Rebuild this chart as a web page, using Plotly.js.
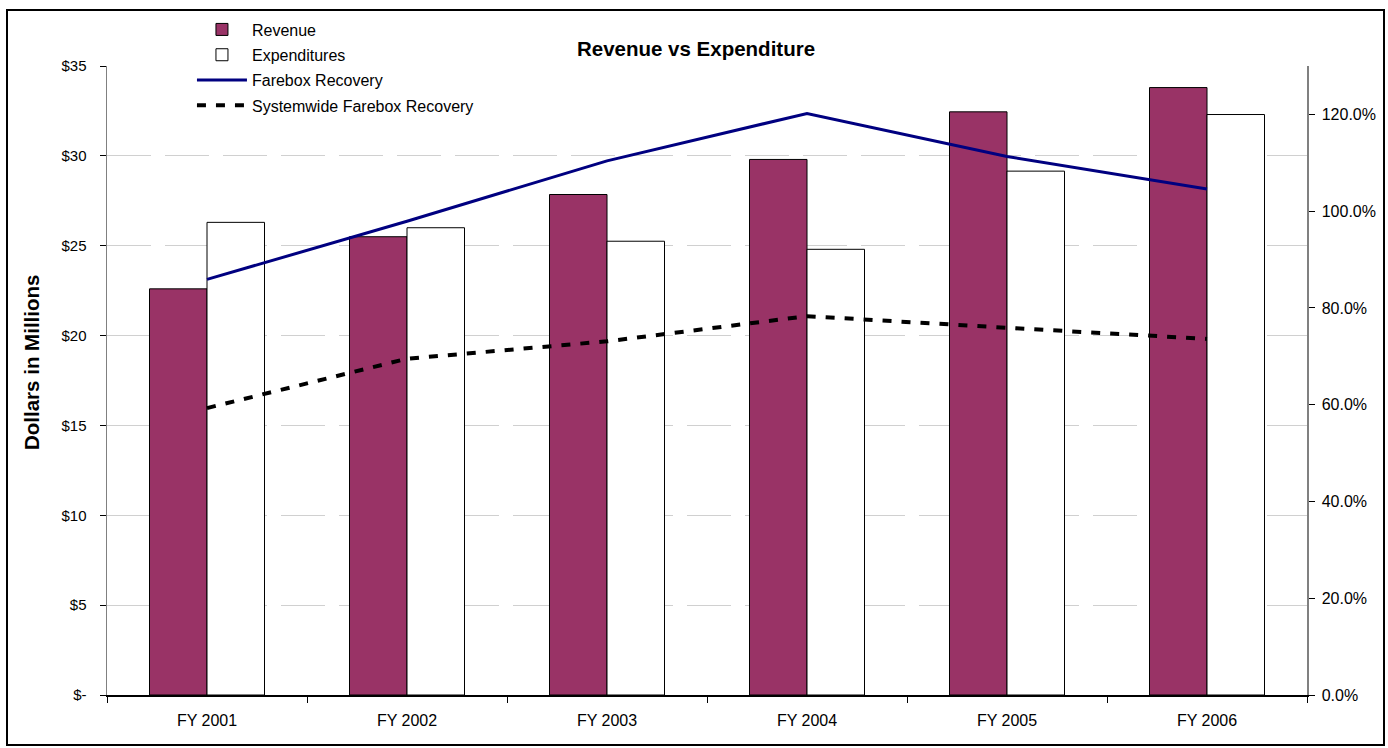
<!DOCTYPE html>
<html>
<head>
<meta charset="utf-8">
<script src="https://cdn.plot.ly/plotly-3.0.1.min.js"></script>
<style>html,body{margin:0;padding:0;background:#fff;}#chart{width:1388px;height:748px;}</style>
</head>
<body>
<div id="chart"></div>
<script>
var categories = ["FY 2001", "FY 2002", "FY 2003", "FY 2004", "FY 2005", "FY 2006"];
var revenue = [22.6, 25.5, 27.85, 29.8, 32.45, 33.8];
var expenditures = [26.3, 26.0, 25.25, 24.8, 29.15, 32.3];
var fareboxRecovery = [0.859, 0.979, 1.104, 1.202, 1.113, 1.046];
var systemwideRecovery = [0.593, 0.695, 0.731, 0.783, 0.759, 0.736];
var leftTickVals = [0, 5, 10, 15, 20, 25, 30, 35];
var leftTickText = ["$-", "$5", "$10", "$15", "$20", "$25", "$30", "$35"];
var rightTickVals = [0, 0.2, 0.4, 0.6, 0.8, 1.0, 1.2];

var FONT = "Liberation Sans, Arial, sans-serif";

var traces = [
  {type: "bar", name: "Revenue", x: categories, y: revenue, legendgroup: "a",
   marker: {color: "#993366", line: {color: "#000000", width: 1}}, yaxis: "y"},
  {type: "bar", name: "Expenditures", x: categories, y: expenditures, legendgroup: "b",
   marker: {color: "#ffffff", line: {color: "#000000", width: 1}}, yaxis: "y"},
  {type: "scatter", mode: "lines", name: "Farebox Recovery", x: categories, y: fareboxRecovery, legendgroup: "c",
   line: {color: "#000080", width: 3}, yaxis: "y2"},
  {type: "scatter", mode: "lines", name: "Systemwide Farebox Recovery", x: categories, y: systemwideRecovery, legendgroup: "d",
   line: {color: "#000000", width: 4, dash: "9px,10px"}, yaxis: "y2"}
];

var layout = {
  width: 1388, height: 748,
  paper_bgcolor: "#ffffff", plot_bgcolor: "#ffffff",
  font: {family: FONT, size: 15, color: "#000"},
  margin: {l: 107, r: 81, t: 66, b: 53},
  barmode: "group", bargap: 0.425, bargroupgap: 0,
  showlegend: true,
  title: {text: "<b>Revenue vs Expenditure</b>", font: {family: FONT, size: 20.5, color: "#000"},
          x: 696/1388, xref: "container", y: 1 - 49/748, yref: "container", yanchor: "middle", xanchor: "center"},
  legend: {x: 0.0708, xanchor: "left", y: 1.085, yanchor: "top", font: {family: FONT, size: 16},
           bgcolor: "rgba(0,0,0,0)", traceorder: "grouped", itemwidth: 50, tracegroupgap: 1.5},
  xaxis: {type: "category", showline: true, linecolor: "#000", linewidth: 1.5,
          ticks: "outside", tickson: "boundaries", ticklen: 6, tickcolor: "#000",
          ticklabelstandoff: 10,
          showgrid: false, zeroline: false, tickfont: {size: 16}},
  yaxis: {range: [0, 35], tickvals: leftTickVals, ticktext: leftTickText,
          showline: true, linecolor: "#808080", linewidth: 1.5,
          ticks: "outside", ticklen: 6, tickcolor: "#000", ticklabelstandoff: 10,
          showgrid: true, gridcolor: "#d0d0d0", gridwidth: 1, griddash: "44px,14px",
          zeroline: false, tickfont: {size: 15}},
  yaxis2: {overlaying: "y", side: "right", range: [0, 1.3], tickmode: "array",
           tickvals: rightTickVals, tickformat: ".1%",
           showline: true, linecolor: "#808080", linewidth: 1.5,
           ticks: "outside", ticklen: 6, tickcolor: "#000", ticklabelstandoff: 4,
           showgrid: false, zeroline: false, tickfont: {size: 16}},
  annotations: [{text: "<b>Dollars in Millions</b>", xref: "paper", yref: "paper",
                 x: (31-107)/1200, y: (695-363)/629, xanchor: "center", yanchor: "middle",
                 textangle: -90, showarrow: false, font: {family: FONT, size: 20.5, color: "#000"}}],
  shapes: [{type: "rect", xref: "paper", yref: "paper",
            x0: (7-107)/1200, x1: (1384-107)/1200, y0: (695-745)/629, y1: (695-10)/629,
            line: {color: "#000", width: 2}, fillcolor: "rgba(0,0,0,0)", layer: "below"}]
};

Plotly.newPlot("chart", traces, layout, {displayModeBar: false, staticPlot: true});
</script>
</body>
</html>
